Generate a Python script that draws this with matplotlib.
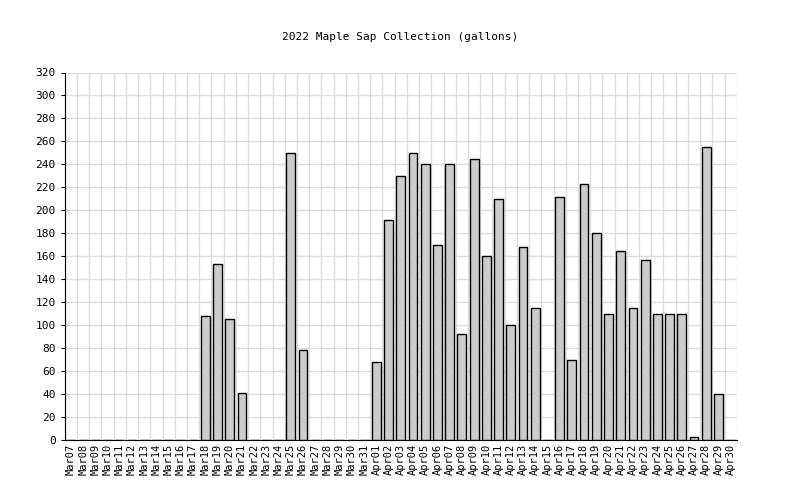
import matplotlib
matplotlib.use("Agg")
import matplotlib.pyplot as plt
import numpy as np

days = [f"Mar{d:02d}" for d in range(7, 32)] + [f"Apr{d:02d}" for d in range(1, 31)]
vals = {"Mar18":108,"Mar19":153,"Mar20":105,"Mar21":41,"Mar25":250,"Mar26":78,
"Apr01":68,"Apr02":192,"Apr03":230,"Apr04":250,"Apr05":240,"Apr06":170,"Apr07":240,
"Apr08":92,"Apr09":245,"Apr10":160,"Apr11":210,"Apr12":100,"Apr13":168,"Apr14":115,
"Apr16":212,"Apr17":70,"Apr18":223,"Apr19":180,"Apr20":110,"Apr21":165,"Apr22":115,
"Apr23":157,"Apr24":110,"Apr25":110,"Apr26":110,"Apr27":3,"Apr28":255,"Apr29":40}
values = [vals.get(d, 0) for d in days]

plt.rcParams['font.family'] = 'DejaVu Sans Mono'
fig = plt.figure(figsize=(8, 5), dpi=100)
ax = fig.add_axes([0.081, 0.12, 0.84, 0.735])
x = np.arange(len(days))
ax.bar(x, values, width=0.72, color="#cccccc", edgecolor="black", linewidth=1, zorder=3)
ax.set_xlim(-0.5, len(days) - 0.5)
ax.set_ylim(0, 320)
ax.set_yticks(range(0, 321, 20))
ax.set_xticks(x)
ax.set_xticklabels(days, rotation=90, fontsize=7.5)
ax.set_xticks(np.arange(-0.5, len(days), 1), minor=True)
ax.tick_params(axis='y', labelsize=8, length=3)
ax.tick_params(axis='x', which='major', length=0, pad=3)
ax.tick_params(axis='x', which='minor', length=0)
ax.grid(True, which='minor', axis='x', color="#dddddd", linewidth=1, zorder=0)
ax.grid(True, which='major', axis='y', color="#dddddd", linewidth=1, zorder=0)
for s in ['top', 'right']:
    ax.spines[s].set_visible(False)
fig.suptitle("2022 Maple Sap Collection (gallons)", fontsize=8, y=0.935)
fig.savefig("out.png", dpi=100)
